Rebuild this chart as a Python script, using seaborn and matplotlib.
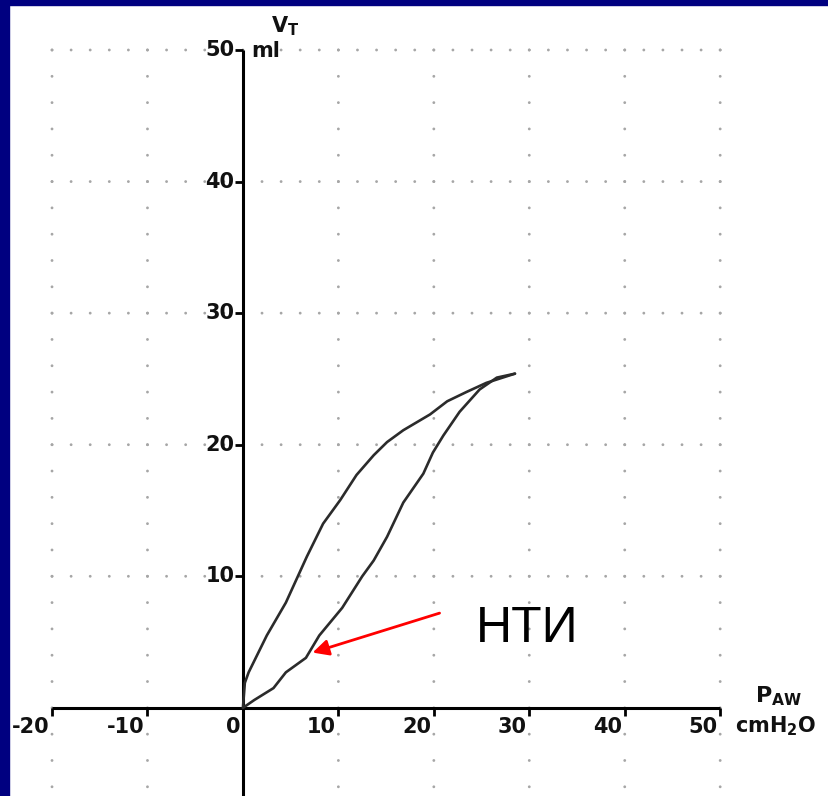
import numpy as np
import pandas as pd
import seaborn as sns
import matplotlib
import matplotlib.pyplot as plt
from matplotlib.patches import Rectangle
import matplotlib.markers as mmarkers

matplotlib.use('Agg')
sns.set_style("white")
plt.rcParams['font.family'] = ['DejaVu Sans']
plt.rcParams['mathtext.fontset'] = 'dejavusans'

# ------------------------------- datos

# Rama inspiratoria (abajo) y espiratoria (arriba) del lazo P-V
insp_p = [0.0, 1.2, 3.2, 4.5, 6.6, 8.0, 10.4, 12.5, 13.7, 15.1, 16.8, 18.9, 19.9, 21.0, 22.7, 24.8, 26.6, 28.5]
insp_v = [0.0, 0.6, 1.5, 2.7, 3.8, 5.5, 7.6, 10.0, 11.2, 13.0, 15.6, 17.8, 19.4, 20.7, 22.5, 24.2, 25.1, 25.4]
esp_p = [28.5, 25.5, 23.4, 21.4, 19.6, 16.8, 15.1, 13.7, 11.9, 10.2, 8.4, 6.7, 4.5, 2.5, 0.6, 0.2, 0.0]
esp_v = [25.4, 24.7, 24.0, 23.3, 22.3, 21.1, 20.2, 19.2, 17.7, 15.8, 14.0, 11.5, 8.0, 5.5, 2.7, 1.9, 0.0]

x_ticks = [-20, -10, 0, 10, 20, 30, 40, 50]
x_tick_labels = ['-20', '-10', '0', '10', '20', '30', '40', '50']
y_ticks = [10, 20, 30, 40, 50]
y_tick_labels = ['10', '20', '30', '40', '50']

# Flecha y etiqueta (НТИ)
flecha_desde = (20.6, 7.2)
flecha_hasta = (7.3, 4.2)
etiqueta = 'НТИ'
etiqueta_pos = (29.8, 6.0)

# ------------------------------- figura
fig = plt.figure(figsize=(8.29, 7.96), dpi=100)
ax = fig.add_axes([0, 0, 1, 1])
ax.set_xlim(-25.45, 61.4)
ax.set_ylim(-6.7, 53.8)
ax.axis('off')

# Rejilla punteada (puntos cada 2 unidades sobre lineas cada 10)
gx, gy = [], []
for xv in x_ticks:
    if xv == 0:
        continue
    for yv in range(-6, 51, 2):
        gx.append(xv)
        gy.append(yv)
for yv in y_ticks:
    for xv in range(-20, 51, 2):
        gx.append(xv)
        gy.append(yv)
grid_df = pd.DataFrame({'x': gx, 'y': gy})
sns.scatterplot(data=grid_df, x='x', y='y', s=4, color='#a6a6a6', edgecolor='none', ax=ax, legend=False)

# Ejes
ax.plot([-20, 50], [0, 0], color='black', lw=2.2, solid_capstyle='butt')
ax.plot([0, 0], [-6.7, 50], color='black', lw=2.2, solid_capstyle='butt')
ax.plot(x_ticks, [0] * len(x_ticks), ls='none', marker=mmarkers.TICKDOWN,
        ms=6, mew=2, color='black')
ax.plot([0] * len(y_ticks), y_ticks, ls='none', marker=mmarkers.TICKLEFT,
        ms=6, mew=2, color='black')

fuente = dict(fontsize=15, fontweight='bold', color='#111111')
for xv, lab in zip(x_ticks, x_tick_labels):
    ax.text(xv - 0.3, -1.45, lab, ha='right', va='center', **fuente)
for yv, lab in zip(y_ticks, y_tick_labels):
    ax.text(-0.9, yv, lab, ha='right', va='center', **fuente)

# Unidades
ax.text(0.9, 49.9, 'ml', ha='left', va='center', **fuente)
ax.text(2.9, 51.8, r'$\mathbf{V_T}$', ha='left', va='center', fontsize=15, color='#111111')
ax.text(53.6, 0.9, r'$\mathbf{P_{AW}}$', ha='left', va='center', fontsize=16, color='#111111')
ax.text(51.6, -1.4, r'$\mathbf{cmH_2O}$', ha='left', va='center', fontsize=15, color='#111111')

# Lazo presion-volumen
sns.lineplot(x=insp_p, y=insp_v, sort=False, estimator=None, color='#2b2b2b', lw=1.9, ax=ax)
sns.lineplot(x=esp_p, y=esp_v, sort=False, estimator=None, color='#2b2b2b', lw=1.9, ax=ax)

# Anotacion
ax.annotate('', xy=flecha_hasta, xytext=flecha_desde,
            arrowprops=dict(arrowstyle='-|>', color='#ff0000', lw=2, mutation_scale=24,
                            shrinkA=0, shrinkB=0))
ax.text(etiqueta_pos[0], etiqueta_pos[1], etiqueta, ha='center', va='center',
        fontsize=36, family='Liberation Sans', color='black')

# Marco azul (arriba e izquierda)
fig.patches.append(Rectangle((0, 1 - 5 / 796), 1, 5 / 796, transform=fig.transFigure,
                             color='#000080', zorder=10))
fig.patches.append(Rectangle((0, 0), 9 / 829, 1, transform=fig.transFigure,
                             color='#000080', zorder=10))

plt.savefig('out.png', dpi=100)
